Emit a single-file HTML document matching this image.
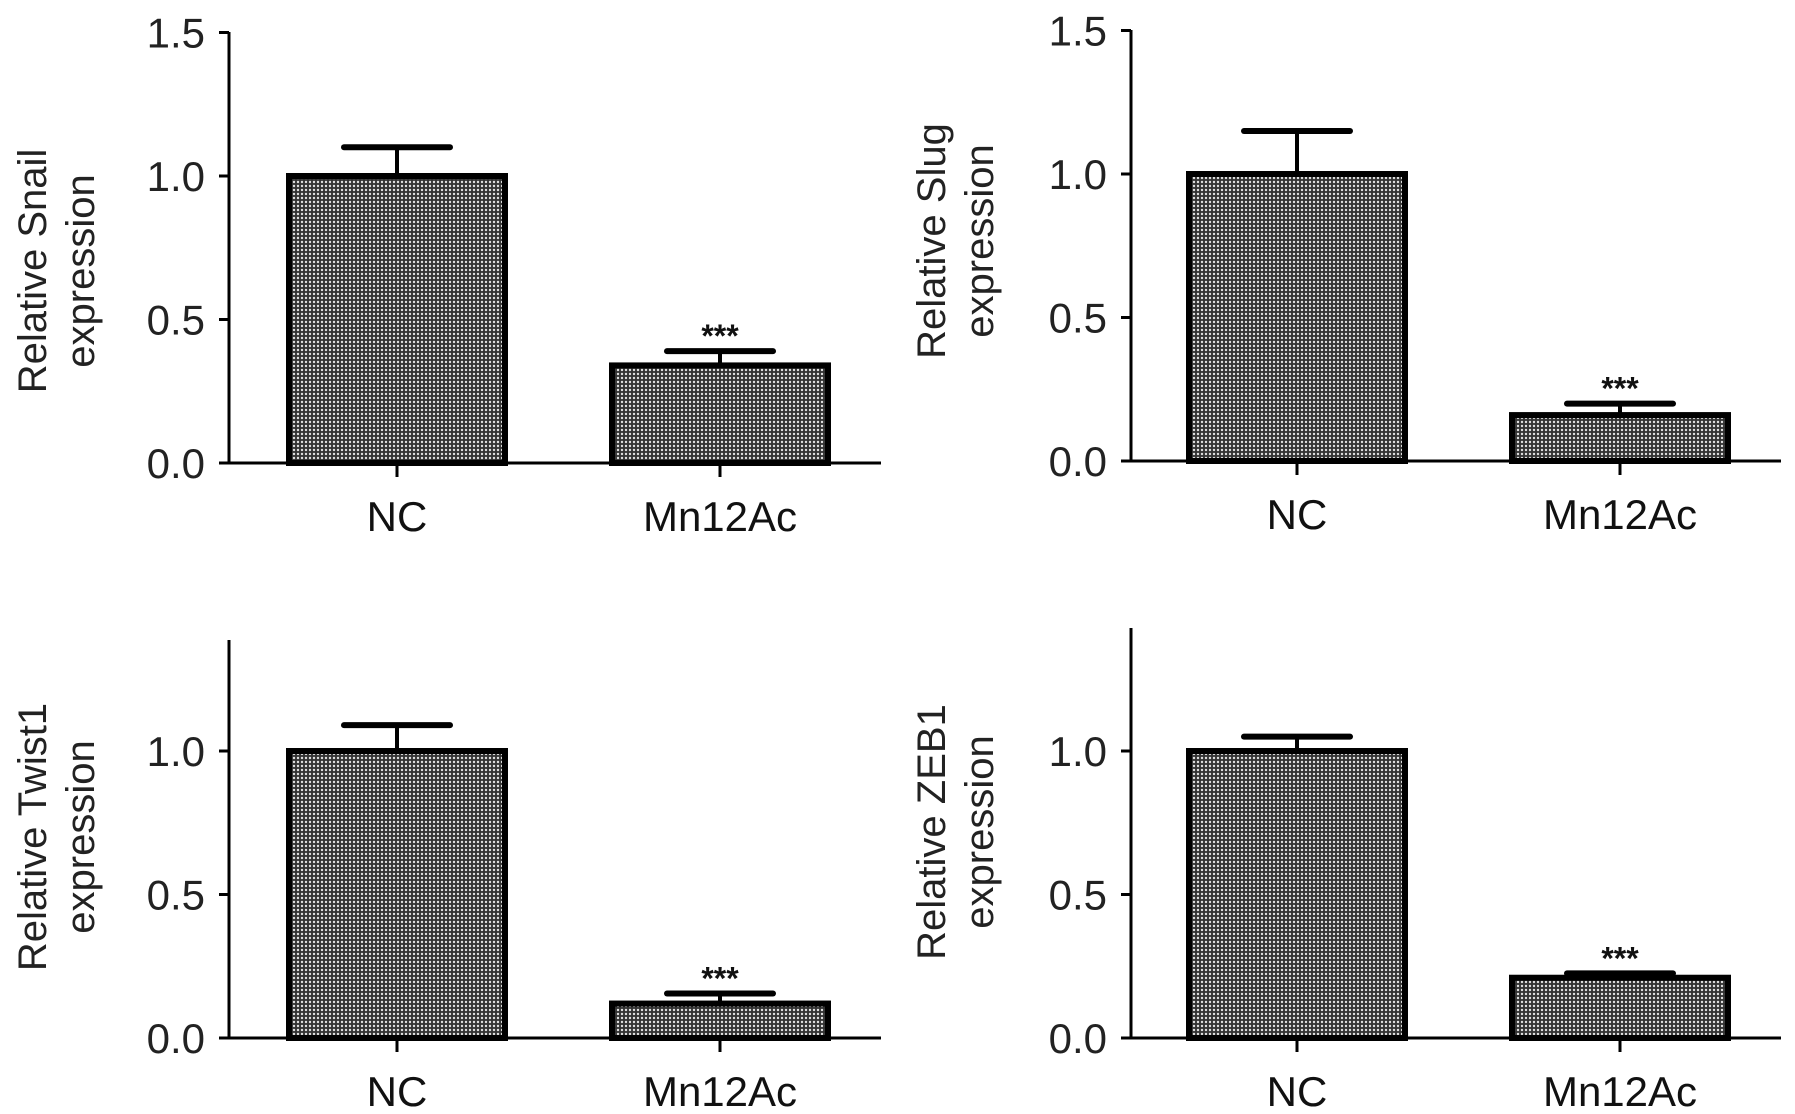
<!DOCTYPE html>
<html><head><meta charset="utf-8"><style>
html,body{margin:0;padding:0;background:#fff;}
svg{display:block;font-family:"Liberation Sans",Arial,sans-serif;}
</style></head><body>
<svg id="fig" width="1795" height="1114" viewBox="0 0 1795 1114" xmlns="http://www.w3.org/2000/svg">
<defs>
<pattern id="dots" width="4" height="4" patternUnits="userSpaceOnUse">
<rect width="4" height="4" fill="#333"/>
<circle cx="2" cy="2" r="1.2" fill="#e0e0e0"/>
</pattern>
</defs>
</svg>
<script>
const categories = ["NC", "Mn12Ac"];
const snailValues = [1.0, 0.34];
const snailErrors = [0.10, 0.05];
const slugValues = [1.0, 0.16];
const slugErrors = [0.15, 0.04];
const twistValues = [1.0, 0.12];
const twistErrors = [0.09, 0.035];
const zebValues = [1.0, 0.21];
const zebErrors = [0.05, 0.015];
const tickTopValues = [0.0, 0.5, 1.0, 1.5];
const tickTopLabels = ["0.0", "0.5", "1.0", "1.5"];
const tickBotValues = [0.0, 0.5, 1.0];
const tickBotLabels = ["0.0", "0.5", "1.0"];
const sigLabels = ["", "***"];

const NS = "http://www.w3.org/2000/svg";
const svg = document.getElementById("fig");
function mk(tag, attrs, parent) {
  const e = document.createElementNS(NS, tag);
  for (const k in attrs) e.setAttribute(k, attrs[k]);
  (parent || svg).appendChild(e);
  return e;
}
function panel(o) {
  const g = mk("g", {});
  
  
  const y = v => o.y0 - v * o.unit;
  const xc = i => o.xt[i];
  const yax = mk("line", {x1: o.ax, y1: o.top, x2: o.ax, y2: o.y0, stroke: "#000", "stroke-width": 3}, g);
  
  
  o.ticks.forEach((t, i) => {
    const tk = mk("line", {x1: o.ax - 10, y1: y(t), x2: o.ax, y2: y(t), stroke: "#000", "stroke-width": 3}, g);
    
    
    const tl = mk("text", {x: o.ax - 24, y: y(t) + 15, "text-anchor": "end", "font-size": 42, fill: "#222"}, g);
    tl.textContent = o.tickLabels[i];
    
    
  });
  o.vals.forEach((v, i) => {
    const bx = xc(i) - 108, bw = 216;
    const bar = mk("rect", {x: bx, y: y(v), width: bw, height: o.y0 - y(v), fill: "url(#dots)", stroke: "#000", "stroke-width": 6}, g);
    
    
    const et = y(v + o.errs[i]);
    const el = mk("line", {x1: xc(i), y1: y(v), x2: xc(i), y2: et, stroke: "#000", "stroke-width": 4}, g);
    
    
    const cap = mk("line", {x1: xc(i) - 53, y1: et, x2: xc(i) + 53, y2: et, stroke: "#000", "stroke-width": 6, "stroke-linecap": "round"}, g);
    
    
    if (sigLabels[i]) {
      const s = mk("text", {x: xc(i), y: et - 4, "text-anchor": "middle", "font-size": 32, "font-weight": "bold", fill: "#111"}, g);
      s.textContent = sigLabels[i];
      
      
    }
    const xt = mk("line", {x1: xc(i), y1: o.y0, x2: xc(i), y2: o.y0 + 14, stroke: "#000", "stroke-width": 3}, g);
    
    
    const xl = mk("text", {x: xc(i), y: o.y0 + 68, "text-anchor": "middle", "font-size": 42, fill: "#111"}, g);
    xl.textContent = categories[i];
    
    
  });
  const xax = mk("line", {x1: o.ax - 10, y1: o.y0, x2: o.xr, y2: o.y0, stroke: "#000", "stroke-width": 3}, g);
  
  
  const mid = o.tmid;
  const t1 = mk("text", {x: o.tx, y: mid + 8, "text-anchor": "middle", "font-size": 40, fill: "#222", transform: "rotate(-90 " + o.tx + " " + mid + ")"}, g);
  t1.textContent = o.title;
  
  
  const t2 = mk("text", {x: o.tx + 48, y: mid + 8, "text-anchor": "middle", "font-size": 40, fill: "#222", transform: "rotate(-90 " + (o.tx + 48) + " " + mid + ")"}, g);
  t2.textContent = "expression";
  
  
}
panel({name: "snail-panel", ax: 229, y0: 463, unit: 287, top: 32, xr: 881, xt: [397, 720], vals: snailValues, errs: snailErrors, ticks: tickTopValues, tickLabels: tickTopLabels, title: "Relative Snail", tx: 38, tmid: 271});
panel({name: "slug-panel", ax: 1131, y0: 461, unit: 287, top: 30, xr: 1781, xt: [1297, 1620], vals: slugValues, errs: slugErrors, ticks: tickTopValues, tickLabels: tickTopLabels, title: "Relative Slug", tx: 937, tmid: 241});
panel({name: "twist1-panel", ax: 229, y0: 1038, unit: 287, top: 640, xr: 881, xt: [397, 720], vals: twistValues, errs: twistErrors, ticks: tickBotValues, tickLabels: tickBotLabels, title: "Relative Twist1", tx: 38, tmid: 837});
panel({name: "zeb1-panel", ax: 1131, y0: 1038, unit: 287, top: 628, xr: 1781, xt: [1297, 1620], vals: zebValues, errs: zebErrors, ticks: tickBotValues, tickLabels: tickBotLabels, title: "Relative ZEB1", tx: 937, tmid: 832});
</script>
</body></html>
